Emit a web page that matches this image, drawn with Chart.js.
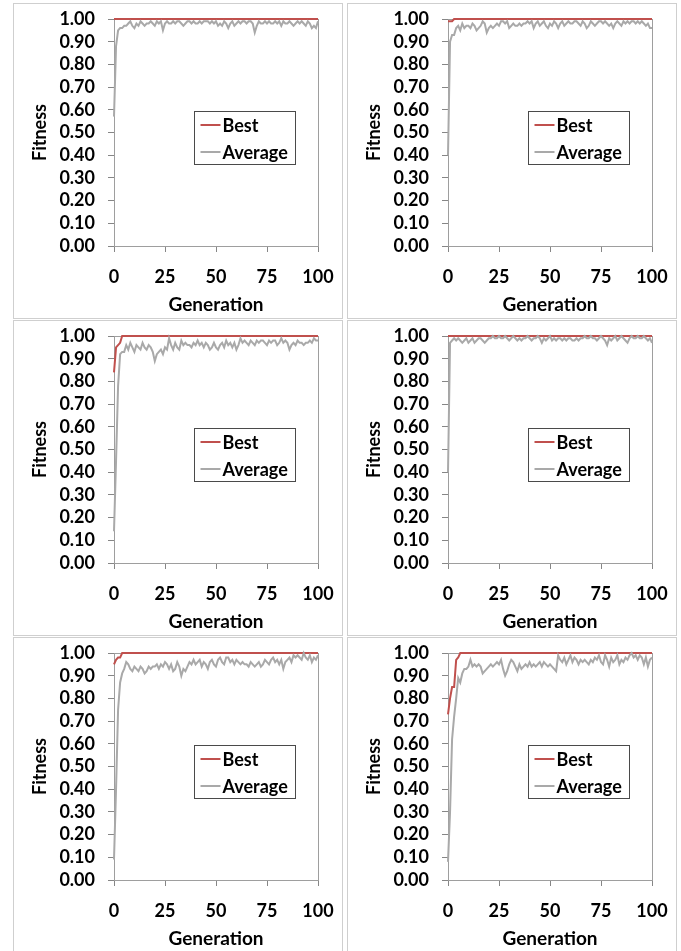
<!DOCTYPE html>
<html>
<head>
<meta charset="utf-8">
<title>Fitness by Generation</title>
<script src="https://cdn.jsdelivr.net/npm/chart.js@4.4.1/dist/chart.umd.min.js"></script>
<style>
  html, body { margin: 0; padding: 0; background: #fff; }
  body { width: 681px; height: 951px; position: relative; overflow: hidden; }
  .panel {
    position: absolute;
    width: 328px;
    height: 314px;
    border: 1px solid #cfcfcf;
    background: #fff;
  }
  .panel canvas { display: block; }
</style>
</head>
<body>
<div class="panel" style="left:13px; top:3px;"><canvas id="chart1" width="328" height="314"></canvas></div>
<div class="panel" style="left:347px; top:3px;"><canvas id="chart2" width="328" height="314"></canvas></div>
<div class="panel" style="left:13px; top:320px;"><canvas id="chart3" width="328" height="314"></canvas></div>
<div class="panel" style="left:347px; top:320px;"><canvas id="chart4" width="328" height="314"></canvas></div>
<div class="panel" style="left:13px; top:637px;"><canvas id="chart5" width="328" height="314"></canvas></div>
<div class="panel" style="left:347px; top:637px;"><canvas id="chart6" width="328" height="314"></canvas></div>

<script>
// Colours close to the Excel defaults used in the original figure
const CHART_COLORS = {
  best: "#C0504D",
  average: "#A9A9A9",
  axis: "#868686",
  border: "#9e9e9e",
  text: "#000000",
};

const FONT_FAMILY = "Lato, 'Open Sans', 'Liberation Sans', sans-serif";

// Generation numbers (x axis)
const generations = [
  0, 1, 2, 3, 4, 5, 6, 7, 8, 9,
  10, 11, 12, 13, 14, 15, 16, 17, 18, 19,
  20, 21, 22, 23, 24, 25, 26, 27, 28, 29,
  30, 31, 32, 33, 34, 35, 36, 37, 38, 39,
  40, 41, 42, 43, 44, 45, 46, 47, 48, 49,
  50, 51, 52, 53, 54, 55, 56, 57, 58, 59,
  60, 61, 62, 63, 64, 65, 66, 67, 68, 69,
  70, 71, 72, 73, 74, 75, 76, 77, 78, 79,
  80, 81, 82, 83, 84, 85, 86, 87, 88, 89,
  90, 91, 92, 93, 94, 95, 96, 97, 98, 99,
  100,
];

const xTicks = [0, 25, 50, 75, 100];
const seriesNames = ["Best", "Average"];

// Run 1 (top left)
const best1 = [
  1.00, 1.00, 1.00, 1.00, 1.00, 1.00, 1.00, 1.00, 1.00, 1.00,
  1.00, 1.00, 1.00, 1.00, 1.00, 1.00, 1.00, 1.00, 1.00, 1.00,
  1.00, 1.00, 1.00, 1.00, 1.00, 1.00, 1.00, 1.00, 1.00, 1.00,
  1.00, 1.00, 1.00, 1.00, 1.00, 1.00, 1.00, 1.00, 1.00, 1.00,
  1.00, 1.00, 1.00, 1.00, 1.00, 1.00, 1.00, 1.00, 1.00, 1.00,
  1.00, 1.00, 1.00, 1.00, 1.00, 1.00, 1.00, 1.00, 1.00, 1.00,
  1.00, 1.00, 1.00, 1.00, 1.00, 1.00, 1.00, 1.00, 1.00, 1.00,
  1.00, 1.00, 1.00, 1.00, 1.00, 1.00, 1.00, 1.00, 1.00, 1.00,
  1.00, 1.00, 1.00, 1.00, 1.00, 1.00, 1.00, 1.00, 1.00, 1.00,
  1.00, 1.00, 1.00, 1.00, 1.00, 1.00, 1.00, 1.00, 1.00, 1.00,
  1.00,
];
const avg1 = [
  0.57, 0.88, 0.95, 0.96, 0.96, 0.97, 0.97, 0.98, 0.99, 0.97,
  0.96, 0.98, 0.97, 0.99, 0.98, 0.97, 0.98, 0.98, 0.99, 0.98,
  0.97, 0.99, 0.98, 0.99, 0.95, 0.98, 0.99, 0.98, 0.98, 0.99,
  0.98, 0.99, 0.99, 0.98, 0.97, 0.98, 0.99, 0.99, 0.98, 0.99,
  0.98, 0.98, 0.99, 0.98, 0.99, 0.99, 0.99, 0.98, 0.99, 0.98,
  0.99, 0.97, 0.98, 0.97, 0.99, 0.98, 0.96, 0.98, 0.99, 0.97,
  0.98, 0.99, 0.98, 0.99, 0.99, 0.98, 0.99, 0.99, 0.98, 0.94,
  0.97, 0.99, 0.98, 0.98, 0.99, 0.98, 0.99, 0.98, 0.98, 0.99,
  0.98, 0.99, 0.97, 0.99, 0.98, 0.98, 0.99, 0.98, 0.97, 0.98,
  0.99, 0.98, 0.99, 0.98, 0.97, 0.99, 0.98, 0.96, 0.97, 0.96,
  0.99,
];

// Run 2 (top right)
const best2 = [
  0.99, 0.99, 0.99, 1.00, 1.00, 1.00, 1.00, 1.00, 1.00, 1.00,
  1.00, 1.00, 1.00, 1.00, 1.00, 1.00, 1.00, 1.00, 1.00, 1.00,
  1.00, 1.00, 1.00, 1.00, 1.00, 1.00, 1.00, 1.00, 1.00, 1.00,
  1.00, 1.00, 1.00, 1.00, 1.00, 1.00, 1.00, 1.00, 1.00, 1.00,
  1.00, 1.00, 1.00, 1.00, 1.00, 1.00, 1.00, 1.00, 1.00, 1.00,
  1.00, 1.00, 1.00, 1.00, 1.00, 1.00, 1.00, 1.00, 1.00, 1.00,
  1.00, 1.00, 1.00, 1.00, 1.00, 1.00, 1.00, 1.00, 1.00, 1.00,
  1.00, 1.00, 1.00, 1.00, 1.00, 1.00, 1.00, 1.00, 1.00, 1.00,
  1.00, 1.00, 1.00, 1.00, 1.00, 1.00, 1.00, 1.00, 1.00, 1.00,
  1.00, 1.00, 1.00, 1.00, 1.00, 1.00, 1.00, 1.00, 1.00, 1.00,
  1.00,
];
const avg2 = [
  0.40, 0.90, 0.93, 0.93, 0.96, 0.97, 0.95, 0.98, 0.96, 0.97,
  0.97, 0.96, 0.98, 0.97, 0.95, 0.96, 0.97, 0.99, 0.98, 0.94,
  0.96, 0.97, 0.96, 0.97, 0.98, 0.97, 0.99, 0.99, 0.98, 0.99,
  0.96, 0.97, 0.98, 0.97, 0.97, 0.98, 0.97, 0.98, 0.98, 0.99,
  0.98, 0.99, 0.96, 0.98, 0.99, 0.97, 0.98, 0.99, 0.97, 0.96,
  0.98, 0.97, 0.99, 0.98, 0.96, 0.98, 0.99, 0.97, 0.98, 0.99,
  0.98, 0.98, 0.99, 0.99, 0.98, 0.97, 0.99, 0.98, 0.96, 0.97,
  0.99, 0.98, 0.97, 0.98, 0.99, 0.99, 0.98, 0.99, 0.98, 0.97,
  0.98, 0.96, 0.98, 0.99, 0.98, 0.97, 0.99, 0.98, 0.99, 0.98,
  0.99, 0.99, 0.98, 0.99, 0.98, 0.99, 0.98, 0.97, 0.98, 0.96,
  0.96,
];

// Run 3 (middle left)
const best3 = [
  0.84, 0.95, 0.96, 0.97, 1.00, 1.00, 1.00, 1.00, 1.00, 1.00,
  1.00, 1.00, 1.00, 1.00, 1.00, 1.00, 1.00, 1.00, 1.00, 1.00,
  1.00, 1.00, 1.00, 1.00, 1.00, 1.00, 1.00, 1.00, 1.00, 1.00,
  1.00, 1.00, 1.00, 1.00, 1.00, 1.00, 1.00, 1.00, 1.00, 1.00,
  1.00, 1.00, 1.00, 1.00, 1.00, 1.00, 1.00, 1.00, 1.00, 1.00,
  1.00, 1.00, 1.00, 1.00, 1.00, 1.00, 1.00, 1.00, 1.00, 1.00,
  1.00, 1.00, 1.00, 1.00, 1.00, 1.00, 1.00, 1.00, 1.00, 1.00,
  1.00, 1.00, 1.00, 1.00, 1.00, 1.00, 1.00, 1.00, 1.00, 1.00,
  1.00, 1.00, 1.00, 1.00, 1.00, 1.00, 1.00, 1.00, 1.00, 1.00,
  1.00, 1.00, 1.00, 1.00, 1.00, 1.00, 1.00, 1.00, 1.00, 1.00,
  1.00,
];
const avg3 = [
  0.14, 0.45, 0.78, 0.92, 0.93, 0.93, 0.96, 0.94, 0.97, 0.95,
  0.93, 0.96, 0.95, 0.94, 0.97, 0.95, 0.94, 0.96, 0.95, 0.93,
  0.89, 0.92, 0.93, 0.94, 0.92, 0.95, 0.94, 0.99, 0.96, 0.94,
  0.97, 0.95, 0.94, 0.98, 0.96, 0.97, 0.96, 0.96, 0.95, 0.97,
  0.96, 0.98, 0.96, 0.97, 0.95, 0.97, 0.96, 0.94, 0.95, 0.97,
  0.95, 0.94, 0.96, 0.97, 0.95, 0.98, 0.96, 0.97, 0.95, 0.97,
  0.94, 0.96, 0.99, 0.97, 0.98, 0.97, 0.96, 0.98, 0.97, 0.96,
  0.98, 0.97, 0.98, 0.98, 0.97, 0.96, 0.98, 0.97, 0.98, 0.98,
  0.96, 0.97, 0.99, 0.97, 0.98, 0.97, 0.94, 0.96, 0.97, 0.96,
  0.98, 0.97, 0.97, 0.96, 0.97, 0.97, 0.98, 0.97, 0.99, 0.98,
  0.98,
];

// Run 4 (middle right)
const best4 = [
  1.00, 1.00, 1.00, 1.00, 1.00, 1.00, 1.00, 1.00, 1.00, 1.00,
  1.00, 1.00, 1.00, 1.00, 1.00, 1.00, 1.00, 1.00, 1.00, 1.00,
  1.00, 1.00, 1.00, 1.00, 1.00, 1.00, 1.00, 1.00, 1.00, 1.00,
  1.00, 1.00, 1.00, 1.00, 1.00, 1.00, 1.00, 1.00, 1.00, 1.00,
  1.00, 1.00, 1.00, 1.00, 1.00, 1.00, 1.00, 1.00, 1.00, 1.00,
  1.00, 1.00, 1.00, 1.00, 1.00, 1.00, 1.00, 1.00, 1.00, 1.00,
  1.00, 1.00, 1.00, 1.00, 1.00, 1.00, 1.00, 1.00, 1.00, 1.00,
  1.00, 1.00, 1.00, 1.00, 1.00, 1.00, 1.00, 1.00, 1.00, 1.00,
  1.00, 1.00, 1.00, 1.00, 1.00, 1.00, 1.00, 1.00, 1.00, 1.00,
  1.00, 1.00, 1.00, 1.00, 1.00, 1.00, 1.00, 1.00, 1.00, 1.00,
  1.00,
];
const avg4 = [
  0.40, 0.97, 0.98, 0.99, 0.98, 0.99, 0.98, 0.97, 0.98, 0.99,
  0.97, 0.98, 0.99, 0.97, 0.98, 0.99, 0.99, 0.98, 0.97, 0.98,
  0.99, 0.99, 1.00, 0.99, 0.99, 1.00, 0.99, 0.99, 1.00, 0.99,
  0.98, 0.99, 1.00, 0.99, 0.98, 0.99, 0.98, 0.99, 0.99, 1.00,
  0.99, 0.98, 0.99, 0.99, 1.00, 0.99, 0.97, 0.99, 0.98, 0.99,
  1.00, 0.98, 0.99, 0.98, 0.99, 0.99, 0.98, 0.99, 0.98, 0.99,
  0.99, 0.98, 0.98, 0.99, 0.98, 0.99, 0.99, 1.00, 0.99, 0.99,
  1.00, 0.99, 0.99, 0.98, 0.99, 1.00, 0.99, 0.98, 0.96, 0.99,
  0.98, 0.99, 1.00, 0.98, 0.99, 1.00, 0.99, 0.98, 0.97, 0.99,
  1.00, 0.99, 0.99, 1.00, 0.99, 0.99, 1.00, 0.99, 0.98, 0.99,
  0.97,
];

// Run 5 (bottom left)
const best5 = [
  0.95, 0.97, 0.98, 0.98, 1.00, 1.00, 1.00, 1.00, 1.00, 1.00,
  1.00, 1.00, 1.00, 1.00, 1.00, 1.00, 1.00, 1.00, 1.00, 1.00,
  1.00, 1.00, 1.00, 1.00, 1.00, 1.00, 1.00, 1.00, 1.00, 1.00,
  1.00, 1.00, 1.00, 1.00, 1.00, 1.00, 1.00, 1.00, 1.00, 1.00,
  1.00, 1.00, 1.00, 1.00, 1.00, 1.00, 1.00, 1.00, 1.00, 1.00,
  1.00, 1.00, 1.00, 1.00, 1.00, 1.00, 1.00, 1.00, 1.00, 1.00,
  1.00, 1.00, 1.00, 1.00, 1.00, 1.00, 1.00, 1.00, 1.00, 1.00,
  1.00, 1.00, 1.00, 1.00, 1.00, 1.00, 1.00, 1.00, 1.00, 1.00,
  1.00, 1.00, 1.00, 1.00, 1.00, 1.00, 1.00, 1.00, 1.00, 1.00,
  1.00, 1.00, 1.00, 1.00, 1.00, 1.00, 1.00, 1.00, 1.00, 1.00,
  1.00,
];
const avg5 = [
  0.09, 0.40, 0.75, 0.87, 0.91, 0.93, 0.96, 0.95, 0.93, 0.92,
  0.94, 0.93, 0.92, 0.94, 0.93, 0.91, 0.92, 0.94, 0.93, 0.94,
  0.94, 0.95, 0.93, 0.95, 0.94, 0.96, 0.95, 0.93, 0.95, 0.92,
  0.93, 0.96, 0.94, 0.90, 0.93, 0.92, 0.94, 0.96, 0.95, 0.97,
  0.95, 0.96, 0.97, 0.94, 0.96, 0.95, 0.93, 0.96, 0.97, 0.95,
  0.94, 0.97, 0.98, 0.96, 0.95, 0.98, 0.98, 0.96, 0.97, 0.95,
  0.97, 0.96, 0.95, 0.96, 0.95, 0.95, 0.94, 0.96, 0.95, 0.94,
  0.95, 0.96, 0.94, 0.95, 0.97, 0.96, 0.95, 0.97, 0.98, 0.96,
  0.97, 0.95, 0.97, 0.93, 0.96, 0.97, 0.98, 0.96, 0.99, 0.98,
  0.99, 0.98, 0.97, 1.00, 0.98, 0.97, 0.99, 0.96, 0.98, 0.97,
  0.99,
];

// Run 6 (bottom right)
const best6 = [
  0.73, 0.80, 0.85, 0.85, 0.97, 0.98, 1.00, 1.00, 1.00, 1.00,
  1.00, 1.00, 1.00, 1.00, 1.00, 1.00, 1.00, 1.00, 1.00, 1.00,
  1.00, 1.00, 1.00, 1.00, 1.00, 1.00, 1.00, 1.00, 1.00, 1.00,
  1.00, 1.00, 1.00, 1.00, 1.00, 1.00, 1.00, 1.00, 1.00, 1.00,
  1.00, 1.00, 1.00, 1.00, 1.00, 1.00, 1.00, 1.00, 1.00, 1.00,
  1.00, 1.00, 1.00, 1.00, 1.00, 1.00, 1.00, 1.00, 1.00, 1.00,
  1.00, 1.00, 1.00, 1.00, 1.00, 1.00, 1.00, 1.00, 1.00, 1.00,
  1.00, 1.00, 1.00, 1.00, 1.00, 1.00, 1.00, 1.00, 1.00, 1.00,
  1.00, 1.00, 1.00, 1.00, 1.00, 1.00, 1.00, 1.00, 1.00, 1.00,
  1.00, 1.00, 1.00, 1.00, 1.00, 1.00, 1.00, 1.00, 1.00, 1.00,
  1.00,
];
const avg6 = [
  0.08, 0.30, 0.62, 0.72, 0.80, 0.89, 0.87, 0.91, 0.93, 0.93,
  0.94, 0.97, 0.94, 0.95, 0.94, 0.95, 0.94, 0.91, 0.92, 0.93,
  0.94, 0.95, 0.94, 0.95, 0.96, 0.95, 0.97, 0.93, 0.90, 0.92,
  0.95, 0.97, 0.96, 0.94, 0.92, 0.95, 0.93, 0.94, 0.95, 0.94,
  0.96, 0.94, 0.95, 0.94, 0.95, 0.96, 0.94, 0.96, 0.95, 0.94,
  0.95, 0.94, 0.93, 0.92, 0.99, 0.97, 0.96, 0.98, 0.95, 0.97,
  0.99, 0.96, 0.98, 0.97, 0.95, 0.97, 0.96, 0.97, 0.96, 0.95,
  0.97, 0.96, 0.98, 0.97, 0.99, 0.96, 0.95, 0.99, 0.97, 0.94,
  0.98, 0.96, 0.97, 0.99, 0.95, 0.97, 0.96, 0.98, 0.97, 0.99,
  1.00, 0.98, 0.99, 0.97, 0.99, 0.98, 0.95, 0.98, 0.94, 0.97,
  0.98,
];

const runs = [
  { canvasId: "chart1", best: best1, average: avg1 },
  { canvasId: "chart2", best: best2, average: avg2 },
  { canvasId: "chart3", best: best3, average: avg3 },
  { canvasId: "chart4", best: best4, average: avg4 },
  { canvasId: "chart5", best: best5, average: avg5 },
  { canvasId: "chart6", best: best6, average: avg6 },
];

let chartInstances = {};

/**
 * Pair generation numbers with fitness values for a linear x axis
 * @param {Array} values - fitness per generation
 * @returns {Array} points
 */
function toPoints(values) {
  return values.map((v, i) => ({ x: generations[i], y: v }));
}

/**
 * Pin a scale's size and drop the label overhang padding,
 * so the plot area lands where the layout padding says
 * @param {Object} scale - Chart.js scale
 * @param {string} key - "width" or "height"
 * @param {number} size - fixed size in px
 */
function pinScale(scale, key, size) {
  scale[key] = size;
  scale.paddingTop = 0;
  scale.paddingBottom = 0;
  scale.paddingLeft = 0;
  scale.paddingRight = 0;
}

// Thin frame around the plot area, like Excel's plot area border
const plotBorderPlugin = {
  id: "plotBorder",
  beforeDatasetsDraw(chart) {
    const { ctx, chartArea } = chart;
    ctx.save();
    ctx.strokeStyle = CHART_COLORS.border;
    ctx.lineWidth = 1;
    ctx.strokeRect(
      Math.round(chartArea.left) + 0.5,
      Math.round(chartArea.top) + 0.5,
      Math.round(chartArea.right - chartArea.left),
      Math.round(chartArea.bottom - chartArea.top)
    );
    ctx.restore();
  },
};

// Boxed legend drawn inside the plot area
const insideLegendPlugin = {
  id: "insideLegend",
  afterDraw(chart) {
    const { ctx, chartArea } = chart;
    const x = Math.round(chartArea.left) + 80.5;
    const y = Math.round(chartArea.top) + 92.5;
    const w = 101;
    const h = 53;

    ctx.save();
    ctx.fillStyle = "#fff";
    ctx.fillRect(x, y, w, h);
    ctx.strokeStyle = "#4a4a4a";
    ctx.lineWidth = 1;
    ctx.strokeRect(x, y, w, h);

    const items = [
      { label: seriesNames[0], color: CHART_COLORS.best, dy: 13 },
      { label: seriesNames[1], color: CHART_COLORS.average, dy: 40 },
    ];
    ctx.font = "bold 18px " + FONT_FAMILY;
    ctx.textBaseline = "middle";
    ctx.textAlign = "left";
    items.forEach((item) => {
      const ly = Math.round(y + item.dy);
      ctx.strokeStyle = item.color;
      ctx.lineWidth = 2;
      ctx.beginPath();
      ctx.moveTo(x + 6, ly);
      ctx.lineTo(x + 26, ly);
      ctx.stroke();
      ctx.fillStyle = CHART_COLORS.text;
      ctx.fillText(item.label, x + 28, ly + 1);
    });
    ctx.restore();
  },
};

/**
 * Create one fitness-per-generation line chart
 * @param {Object} run - canvas id and the two series
 * @returns {Chart} Chart.js instance
 */
function createFitnessChart(run) {
  const ctx = document.getElementById(run.canvasId);
  if (!ctx) {
    console.error(`Canvas element ${run.canvasId} not found`);
    return null;
  }

  const tickFont = { family: FONT_FAMILY, size: 18, weight: "bold" };

  const chart = new Chart(ctx, {
    type: "line",
    data: {
      datasets: [
        {
          label: seriesNames[1],
          data: toPoints(run.average),
          borderColor: CHART_COLORS.average,
          borderWidth: 2,
          pointRadius: 0,
          tension: 0,
          fill: false,
          clip: 3,
        },
        {
          label: seriesNames[0],
          data: toPoints(run.best),
          borderColor: CHART_COLORS.best,
          borderWidth: 2,
          pointRadius: 0,
          tension: 0,
          fill: false,
          clip: 3,
        },
      ],
    },
    options: {
      responsive: false,
      animation: false,
      devicePixelRatio: 1,
      layout: {
        padding: { top: 15, right: 24, bottom: 0, left: 0 },
      },
      plugins: {
        legend: { display: false },
        tooltip: { enabled: false },
      },
      scales: {
        x: {
          type: "linear",
          min: 0,
          max: 100,
          afterBuildTicks: (scale) => {
            scale.ticks = xTicks.map((v) => ({ value: v }));
          },
          afterFit: (scale) => pinScale(scale, "height", 72),
          grid: {
            drawOnChartArea: false,
            drawTicks: true,
            tickLength: 6,
            color: CHART_COLORS.axis,
          },
          border: { display: true, color: CHART_COLORS.axis },
          ticks: {
            color: CHART_COLORS.text,
            font: tickFont,
            padding: 14,
            maxRotation: 0,
            autoSkip: false,
          },
          title: {
            display: true,
            text: "Generation",
            color: CHART_COLORS.text,
            font: { family: FONT_FAMILY, size: 19, weight: "bold" },
            padding: { top: 0, bottom: 2 },
          },
        },
        y: {
          min: 0,
          max: 1,
          afterFit: (scale) => pinScale(scale, "width", 100),
          grid: {
            drawOnChartArea: false,
            drawTicks: true,
            tickLength: 6,
            color: CHART_COLORS.axis,
          },
          border: { display: true, color: CHART_COLORS.axis },
          ticks: {
            stepSize: 0.1,
            autoSkip: false,
            color: CHART_COLORS.text,
            font: tickFont,
            padding: 13,
            callback: function (value) {
              return Number(value).toFixed(2);
            },
          },
          title: {
            display: true,
            text: "Fitness",
            color: CHART_COLORS.text,
            font: { family: FONT_FAMILY, size: 18, weight: "bold" },
            padding: { top: 15, bottom: 0 },
          },
        },
      },
    },
    plugins: [plotBorderPlugin, insideLegendPlugin],
  });

  chartInstances[run.canvasId] = chart;
  return chart;
}

/**
 * Initialize all six panels
 */
function initializeCharts() {
  runs.forEach(createFitnessChart);
}

document.addEventListener("DOMContentLoaded", initializeCharts);
</script>
</body>
</html>
